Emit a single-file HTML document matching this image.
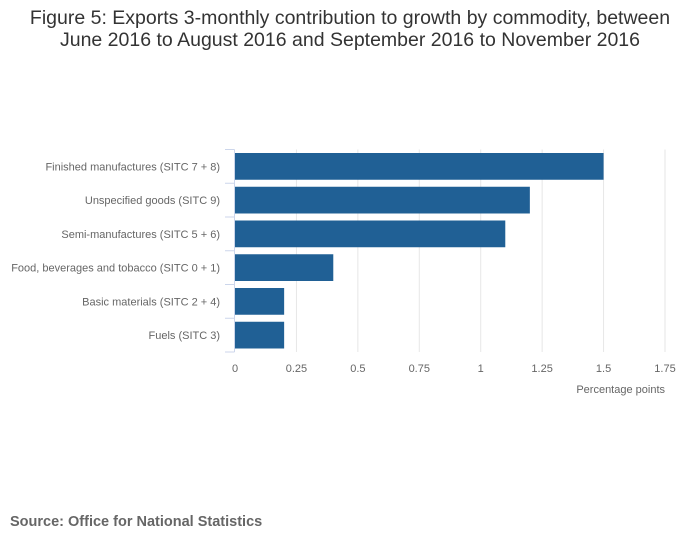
<!DOCTYPE html>
<html><head><meta charset="utf-8"><style>
body{margin:0;background:#fff;font-family:"Liberation Sans",sans-serif}
</style></head><body>
<svg width="700" height="549" xmlns="http://www.w3.org/2000/svg">
<text x="350" y="24" text-anchor="middle" font-size="19.5" fill="#333">Figure 5: Exports 3-monthly contribution to growth by commodity, between</text>
<text x="350" y="46" text-anchor="middle" font-size="19.5" fill="#333">June 2016 to August 2016 and September 2016 to November 2016</text>
<g id="grid"></g><g id="bars"></g><g id="axes"></g>
<text x="665" y="393" text-anchor="end" font-size="11" fill="#666">Percentage points</text>
<text x="10" y="526" font-size="14.5" font-weight="bold" fill="#666">Source: Office for National Statistics</text>
</svg>
<script>
const categories=["Finished manufactures (SITC 7 + 8)","Unspecified goods (SITC 9)","Semi-manufactures (SITC 5 + 6)","Food, beverages and tobacco (SITC 0 + 1)","Basic materials (SITC 2 + 4)","Fuels (SITC 3)"];
const values=[1.5,1.2,1.1,0.4,0.2,0.2];
const ticks=[0,0.25,0.5,0.75,1,1.25,1.5,1.75];
const tickLabels=["0","0.25","0.5","0.75","1","1.25","1.5","1.75"];
const NS="http://www.w3.org/2000/svg";
const x0=235,x1=665,yTop=149.5,yBot=352,band=(yBot-yTop)/categories.length;
const xs=v=>x0+(v/1.75)*(x1-x0);
function mk(t,a,p){const e=document.createElementNS(NS,t);for(const k in a)e.setAttribute(k,a[k]);p.appendChild(e);return e;}
const g=document.getElementById('grid'),b=document.getElementById('bars'),ax=document.getElementById('axes');
ticks.forEach((t,i)=>{
 if(t>0){const l=mk('line',{x1:xs(t),x2:xs(t),y1:yTop,y2:yBot,stroke:'#e6e6e6','stroke-width':1},g);
 
 }
 const tx=mk('text',{x:xs(t),y:372,'text-anchor':'middle','font-size':11,fill:'#666'},ax);
 tx.textContent=tickLabels[i];
 
 
});
const al=mk('line',{x1:234.5,x2:234.5,y1:yTop,y2:yBot,stroke:'#ccd6eb'},ax);


for(let i=0;i<=categories.length;i++){
 const tk=mk('line',{x1:225,x2:234.5,y1:yTop+i*band,y2:yTop+i*band,stroke:'#ccd6eb'},ax);
 
 
}
categories.forEach((c,i)=>{
 const y=yTop+i*band;
 const r=mk('rect',{x:x0,y:y+3.5,width:xs(values[i])-x0,height:band-7,fill:'#206095'},b);
 
 
 const t=mk('text',{x:220,y:y+band/2+4,'text-anchor':'end','font-size':11,fill:'#666'},ax);
 t.textContent=c;
 
 
});
</script>
</body></html>
